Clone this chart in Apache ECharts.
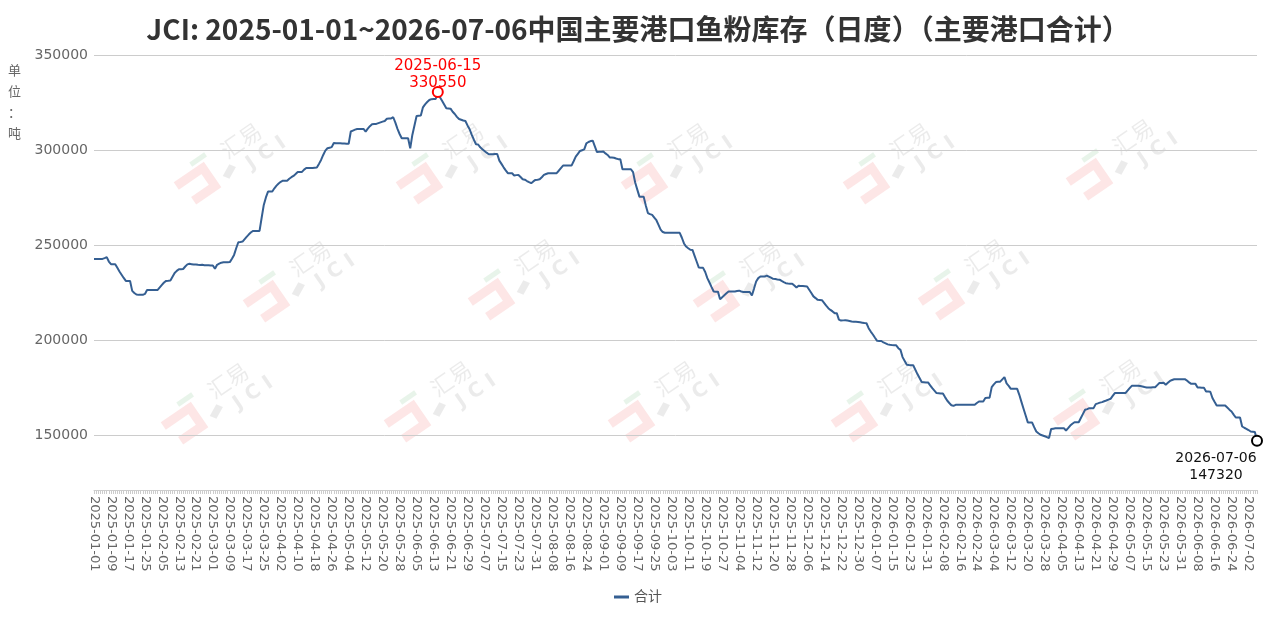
<!DOCTYPE html>
<html>
<head>
<meta charset="utf-8">
<title>JCI 中国主要港口鱼粉库存</title>
<script src="https://cdn.jsdelivr.net/npm/echarts@6.0.0/dist/echarts.min.js"></script>
<style>
	html, body { margin: 0; padding: 0; background: #fff; }
	#chart { width: 1276px; height: 623px; }
</style>
</head>
<body>
<div id="chart"></div>
<script>
const titleText = 'JCI: 2025-01-01~2026-07-06中国主要港口鱼粉库存（日度）（主要港口合计）'
const seriesName = '合计'
const unitLabel = '单位：吨'

// daily categories, the spring festival days have no entry
const firstDay = '2025-01-01'
const lastDay = '2026-07-06'
const skippedDays = ['2025-01-29', '2025-01-30', '2025-01-31']

const yMin = 121500
const yMax = 350000

// stock in tons, one value per category (10 per row)
const stock = [
	242900, 242900, 242900, 242900, 242900, 243300, 243800, 241500, 240100, 240100,
	240100, 238200, 236300, 234600, 232900, 231350, 231350, 231300, 226100, 225000,
	224200, 224000, 224000, 224000, 224500, 226600, 226600, 226600, 226600, 226600,
	226600, 227900, 229200, 230500, 231350, 231400, 231500, 233500, 235500, 236600,
	237500, 237500, 237600, 238900, 240000, 240300, 240100, 239900, 240000, 239800,
	239700, 239800, 239600, 239600, 239500, 239400, 239400, 237700, 239800, 240400,
	240900, 241150, 241150, 241150, 241200, 243000, 245000, 248500, 251650, 251800,
	252000, 253300, 254600, 255800, 256900, 257600, 257600, 257600, 257600, 264500,
	271250, 275200, 278250, 278250, 278300, 280000, 281400, 282500, 283400, 284000,
	284000, 284000, 285000, 285800, 286500, 287500, 288575, 288575, 288600, 289800,
	290675, 290700, 290600, 290700, 290800, 290900, 292800, 294875, 297500, 299800,
	301000, 301300, 301600, 303800, 303700, 303600, 303600, 303500, 303500, 303400,
	303400, 309800, 310300, 310800, 311150, 311150, 311150, 311150, 309800, 311300,
	312600, 313600, 313700, 313800, 314200, 314600, 315000, 315350, 316500, 316600,
	316700, 317300, 314500, 311200, 308500, 306250, 306250, 306250, 306250, 301000,
	308000, 313000, 318000, 318100, 318200, 322500, 324100, 325300, 326375, 326800,
	326900, 326900, 330550, 327800, 326000, 324000, 322000, 321900, 321800, 320200,
	319000, 317500, 316400, 316000, 315600, 315350, 313000, 311000, 308000, 305500,
	303100, 303000, 301500, 300500, 299600, 298700, 297875, 297900, 297900, 298000,
	298000, 294500, 292800, 291000, 289400, 287900, 287900, 287900, 286700, 286900,
	287000, 285900, 284750, 284500, 283800, 283200, 282650, 283600, 284375, 284500,
	284700, 285800, 287000, 287500, 287900, 287900, 287900, 287900, 287900, 289200,
	290600, 291900, 291900, 291900, 291900, 291900, 294200, 296600, 298100, 299600,
	300000, 300400, 303600, 304300, 304800, 305000, 302000, 299000, 299200, 299200,
	299300, 298300, 297500, 296200, 296100, 296000, 295600, 295300, 295300, 290000,
	290000, 290000, 290000, 290000, 288500, 283000, 279300, 275600, 275600, 275600,
	271000, 267000, 266400, 266000, 264600, 263200, 260800, 258300, 257000, 256600,
	256600, 256600, 256600, 256600, 256600, 256600, 256600, 254000, 251000, 249375,
	248500, 247700, 247600, 244500, 241400, 238325, 238300, 238200, 236000, 232775,
	230500, 228100, 225775, 225700, 225700, 221750, 222800, 223800, 224800, 225775,
	225775, 225775, 225775, 226000, 226200, 225800, 225500, 225500, 225500, 225500,
	223650, 227300, 231000, 232800, 233625, 233625, 233625, 234150, 233600, 233000,
	232400, 232300, 232100, 232000, 231300, 230700, 230150, 230000, 229900, 229900,
	228900, 227840, 228800, 228700, 228600, 228500, 228400, 226700, 225000, 223200,
	222300, 221375, 221300, 221200, 219800, 218300, 217000, 216100, 215300, 214400,
	214400, 211000, 210500, 210600, 210700, 210500, 210300, 210000, 209900, 209850,
	209800, 209600, 209400, 209200, 209100, 206500, 204725, 203200, 201500, 199850,
	199800, 199750, 199000, 198500, 198000, 197750, 197600, 197500, 197500, 196000,
	195125, 191300, 189300, 187250, 187100, 187000, 187000, 184700, 182400, 180300,
	178200, 178100, 178000, 178000, 176500, 175000, 173700, 172400, 172300, 172200,
	172200, 170300, 168500, 167200, 166000, 165725, 166250, 166250, 166250, 166250,
	166250, 166250, 166250, 166250, 166250, 166250, 167200, 168000, 168000, 168000,
	169800, 169900, 170000, 175550, 177000, 178200, 178300, 178400, 179600, 180800,
	177500, 176225, 174650, 174650, 174650, 174650, 171500, 167800, 164200, 160600,
	157000, 157000, 157000, 154500, 152250, 151300, 150500, 150100, 149700, 149300,
	148750, 153500, 153700, 153900, 154000, 154000, 154000, 154000, 152750, 154000,
	155375, 156300, 157100, 157100, 157100, 159300, 161500, 163625, 164000, 164500,
	164500, 164500, 166625, 167000, 167400, 167650, 168100, 168500, 169000, 169400,
	170900, 172400, 172400, 172400, 172400, 172400, 172400, 173700, 175000, 176225,
	176225, 176300, 176300, 176100, 175900, 175600, 175375, 175400, 175400, 175500,
	175500, 176600, 177660, 177700, 177800, 176800, 177800, 178800, 179300, 179700,
	179700, 179700, 179700, 179700, 179700, 179000, 178000, 177250, 177250, 177250,
	175375, 175300, 175200, 175200, 173250, 173200, 173100, 169800, 167800, 165900,
	165900, 165900, 165900, 165900, 164800, 163700, 162725, 161100, 159575, 159575,
	159575, 154850, 154200, 153650, 153000, 152250, 152100, 151940, 147320
]

// watermark spots (decoration only)
const markSpots = [
	[233, 152], [455, 152], [680, 152], [902, 152], [1125, 148],
	[302, 270], [527, 268], [752, 270], [977, 268],
	[220, 392], [443, 390], [667, 390], [890, 390], [1112, 388]
]

const fontStack = "'DejaVu Sans', 'Noto Sans CJK SC', sans-serif"

function pad(n) {
	return n < 10 ? '0' + n : '' + n
}

function buildDays(start, end, skip) {
	const out = []
	const d = new Date(start + 'T00:00:00Z')
	const stop = new Date(end + 'T00:00:00Z')
	while (d <= stop) {
		const s = d.getUTCFullYear() + '-' + pad(d.getUTCMonth() + 1) + '-' + pad(d.getUTCDate())
		if (skip.indexOf(s) < 0) out.push(s)
		d.setUTCDate(d.getUTCDate() + 1)
	}
	return out
}

function watermark(spot) {
	const grey = 'rgba(0,0,0,0.08)'
	return {
		type: 'group',
		x: spot[0],
		y: spot[1],
		rotation: 0.6,
		silent: true,
		z: 0,
		children: [
			{ type: 'polyline', shape: { points: [[-66, -4], [-34, -4], [-34, 18], [-60, 18]] },
				style: { stroke: 'rgba(240,90,90,0.15)', lineWidth: 9, fill: null } },
			{ type: 'rect', shape: { x: -42, y: -16, width: 18, height: 5 },
				style: { fill: 'rgba(80,170,90,0.13)' } },
			{ type: 'polygon', shape: { points: [[-22, 14], [-10, 8], [-6, 14], [-18, 20]] },
				style: { fill: grey } },
			{ type: 'text', x: -9, y: -16,
				style: { text: '汇易', fill: grey, font: "22px 'Noto Sans CJK SC'" } },
			{ type: 'text', x: 5, y: 10,
				style: { text: 'J C I', fill: grey, font: "bold 20px 'DejaVu Sans'" } }
		]
	}
}

const days = buildDays(firstDay, lastDay, skippedDays)
const peakIndex = stock.indexOf(Math.max.apply(null, stock))
const endIndex = stock.length - 1

const chart = echarts.init(document.getElementById('chart'))

chart.setOption({
	animation: false,
	backgroundColor: '#fff',
	textStyle: { fontFamily: fontStack },
	title: {
		text: titleText,
		left: 'center',
		top: 10,
		textStyle: {
			fontFamily: "'Noto Sans CJK SC', sans-serif",
			fontSize: 28,
			fontWeight: 'bold',
			color: '#333'
		}
	},
	graphic: markSpots.map(watermark).concat([{
		type: 'text',
		left: 8,
		top: 60,
		style: {
			text: unitLabel.split('').join('\n'),
			fill: '#666',
			font: "13px 'Noto Sans CJK SC'",
			lineHeight: 21
		}
	}]),
	legend: {
		bottom: 14,
		left: 'center',
		itemWidth: 15,
		itemHeight: 3,
		textStyle: { fontSize: 14, color: '#555' },
		data: [{ name: seriesName, icon: 'rect' }]
	},
	grid: {
		left: 94,
		right: 19,
		top: 55,
		bottom: 133
	},
	xAxis: {
		type: 'category',
		boundaryGap: false,
		data: days,
		axisLine: { lineStyle: { color: '#ccc' } },
		axisTick: { show: true, interval: 0, length: 4, lineStyle: { color: '#ccc' } },
		axisLabel: {
			interval: 7,
			rotate: -90,
			fontSize: 13,
			color: '#666',
			margin: 6
		}
	},
	yAxis: {
		type: 'value',
		min: yMin,
		max: yMax,
		axisLine: { show: false },
		axisTick: { show: false },
		axisLabel: {
			showMinLabel: false,
			fontSize: 14,
			color: '#666',
			margin: 6,
			formatter: v => String(v)
		},
		splitLine: { lineStyle: { color: '#ccc' } }
	},
	series: [{
		name: seriesName,
		type: 'line',
		data: stock,
		symbol: 'none',
		lineStyle: { color: '#355f92', width: 2 },
		itemStyle: { color: '#355f92' },
		z: 3,
		markPoint: {
			symbol: 'circle',
			symbolSize: 10,
			data: [{
				coord: [days[peakIndex], stock[peakIndex]],
				itemStyle: { color: '#fff', borderColor: '#ff0000', borderWidth: 2 },
				label: {
					position: 'top',
					distance: 0,
					offset: [0, 6],
					color: '#ff0000',
					fontSize: 15,
					lineHeight: 17,
					formatter: days[peakIndex] + '\n' + stock[peakIndex]
				}
			}, {
				coord: [days[endIndex], stock[endIndex]],
				itemStyle: { color: '#fff', borderColor: '#000', borderWidth: 2 },
				label: {
					position: 'bottom',
					distance: 3,
					offset: [-41, 0],
					color: '#111',
					fontSize: 14,
					lineHeight: 17,
					formatter: days[endIndex] + '\n' + stock[endIndex]
				}
			}]
		}
	}]
})
</script>
</body>
</html>
